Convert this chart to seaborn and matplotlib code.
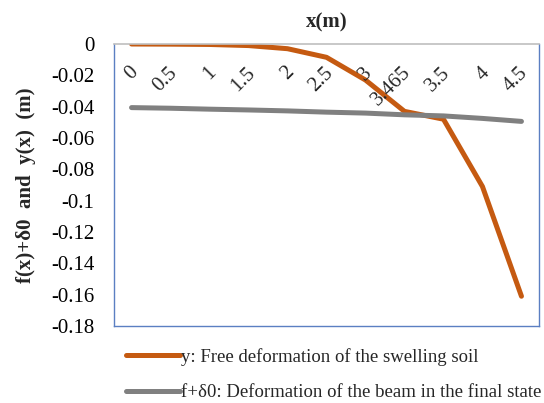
import matplotlib
matplotlib.use("Agg")
import matplotlib.pyplot as plt
import matplotlib.transforms as mtransforms
from matplotlib.ticker import FuncFormatter, MultipleLocator
from matplotlib.lines import Line2D
import seaborn as sns
import pandas as pd
import numpy as np

categories = ["0", "0.5", "1", "1.5", "2", "2.5", "3", "3.465", "3.5", "4", "4.5"]
y_free = [0.0, -0.0001, -0.0003, -0.001, -0.003, -0.0085, -0.023, -0.043, -0.048, -0.091, -0.161]
f_beam = [-0.0406, -0.041, -0.0416, -0.0421, -0.0427, -0.0435, -0.0441, -0.0452, -0.0459, -0.0475, -0.0494]
label_y = "y: Free deformation of the swelling soil"
label_f = "f+\u03b40: Deformation of the beam in the final state"

sns.set_theme(style="white")
plt.rcParams["font.family"] = ["Liberation Serif", "DejaVu Serif"]

pos = np.arange(len(categories))
df = pd.DataFrame({
    "pos": np.concatenate([pos, pos]),
    "value": y_free + f_beam,
    "series": [label_y] * len(pos) + [label_f] * len(pos),
})

fig = plt.figure(figsize=(5.44, 4.03), dpi=100)
ax = fig.add_axes([114 / 544, 1 - 326 / 403, (539 - 114) / 544, (326 - 44) / 403])

sns.lineplot(data=df, x="pos", y="value", hue="series", sort=False,
             palette={label_y: "#C55A11", label_f: "#808080"},
             linewidth=3.6, ax=ax, legend=False, solid_capstyle="round")

ax.set_xlim(-0.45, len(categories) - 1 + 0.45)
ax.set_ylim(-0.18, 0)
ax.yaxis.set_major_locator(MultipleLocator(0.02))
ax.yaxis.set_major_formatter(FuncFormatter(lambda v, p: f"{round(v, 3):g}" if abs(v) > 1e-9 else "0"))
ax.tick_params(axis="y", length=0, labelsize=15, pad=14, colors="black")
ax.set_xticks([])
ax.set_xlabel("")
ax.set_ylabel("f(x)+\u03b40  and  y(x)  (m)", fontsize=15, fontweight="bold", labelpad=11)
ax.set_title("x(m)", fontsize=15, fontweight="bold", pad=12)

for sp in ["left", "right", "bottom"]:
    ax.spines[sp].set_color("#5B7FC2")
    ax.spines[sp].set_linewidth(1.0)
ax.spines["top"].set_color("#BFBFBF")
ax.spines["top"].set_linewidth(1.2)

trans = mtransforms.blended_transform_factory(ax.transData, ax.transAxes)
off = mtransforms.offset_copy(trans, fig=fig, x=4, y=-2, units="dots")
for i, c in enumerate(categories):
    ax.text(i, 0.915, c, transform=off, rotation=45, ha="right", va="center",
            rotation_mode="anchor", fontsize=15)

handles = [Line2D([0], [0], color="#C55A11", lw=3.6, solid_capstyle="round"),
           Line2D([0], [0], color="#808080", lw=3.6, solid_capstyle="round")]
fig.legend(handles, [label_y, label_f], loc="upper left",
           bbox_to_anchor=(126 / 544, 1 - 348 / 403), frameon=False,
           fontsize=13.5, handlelength=2.9, handletextpad=0.05, labelspacing=0.98,
           borderaxespad=0, borderpad=0)

fig.savefig("out.png", dpi=100, facecolor="white")
